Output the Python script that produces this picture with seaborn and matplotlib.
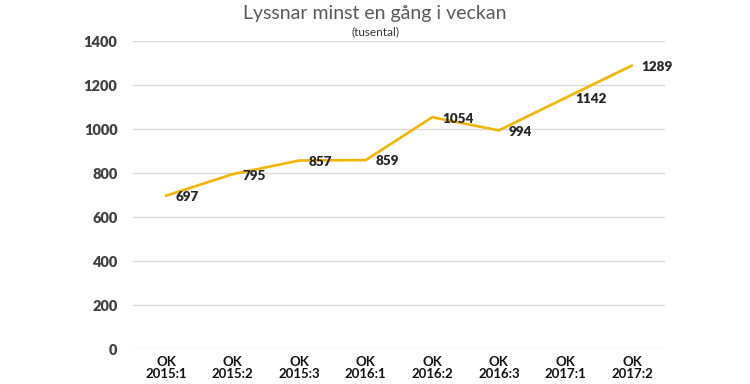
import matplotlib
matplotlib.use("Agg")
import matplotlib.pyplot as plt
import seaborn as sns
import pandas as pd

categories = ["OK\n2015:1", "OK\n2015:2", "OK\n2015:3", "OK\n2016:1",
              "OK\n2016:2", "OK\n2016:3", "OK\n2017:1", "OK\n2017:2"]
values = [697, 795, 857, 859, 1054, 994, 1142, 1289]
yticks = [0, 200, 400, 600, 800, 1000, 1200, 1400]

sns.set_theme(style="white")
plt.rcParams['font.family'] = ['Lato', 'DejaVu Sans']

df = pd.DataFrame({"cat": categories, "val": values})
df["x"] = range(len(categories))

fig = plt.figure(figsize=(7.5, 3.84), dpi=100)
ax = fig.add_axes([0.177, 0.091, 0.71, 0.802])

sns.lineplot(data=df, x="x", y="val", ax=ax, color="#F3B500", linewidth=1.9)

for xi, v in zip(df["x"], values):
    ax.annotate(str(v), (xi, v), xytext=(7, -1), textcoords="offset points",
                ha="left", va="center", fontsize=9.7, fontweight="heavy", color="#262626")

ax.set_xlim(-0.5, len(categories) - 0.5)
ax.set_ylim(0, 1400)
ax.set_yticks(yticks)
ax.set_yticklabels([str(t) for t in yticks], fontsize=10.5, fontweight="heavy", color="#404040")
ax.set_xticks(df["x"])
ax.set_xticklabels(categories, fontsize=9.5, fontweight="bold", color="#111111", linespacing=0.95)
ax.tick_params(axis="both", length=0)
ax.tick_params(axis="y", pad=11)
ax.tick_params(axis="x", pad=5)
ax.grid(axis="y", color="#d9d9d9", linewidth=1)
ax.set_axisbelow(True)
for s in ax.spines.values():
    s.set_visible(False)
ax.set_xlabel("")
ax.set_ylabel("")

fig.text(0.5, 0.965, "Lyssnar minst en gång i veckan", ha="center", va="center",
         fontsize=14, color="#595959")
fig.text(0.5, 0.918, "(tusental)", ha="center", va="center", fontsize=8.5, color="#333333")

fig.savefig("out.png", dpi=100)
